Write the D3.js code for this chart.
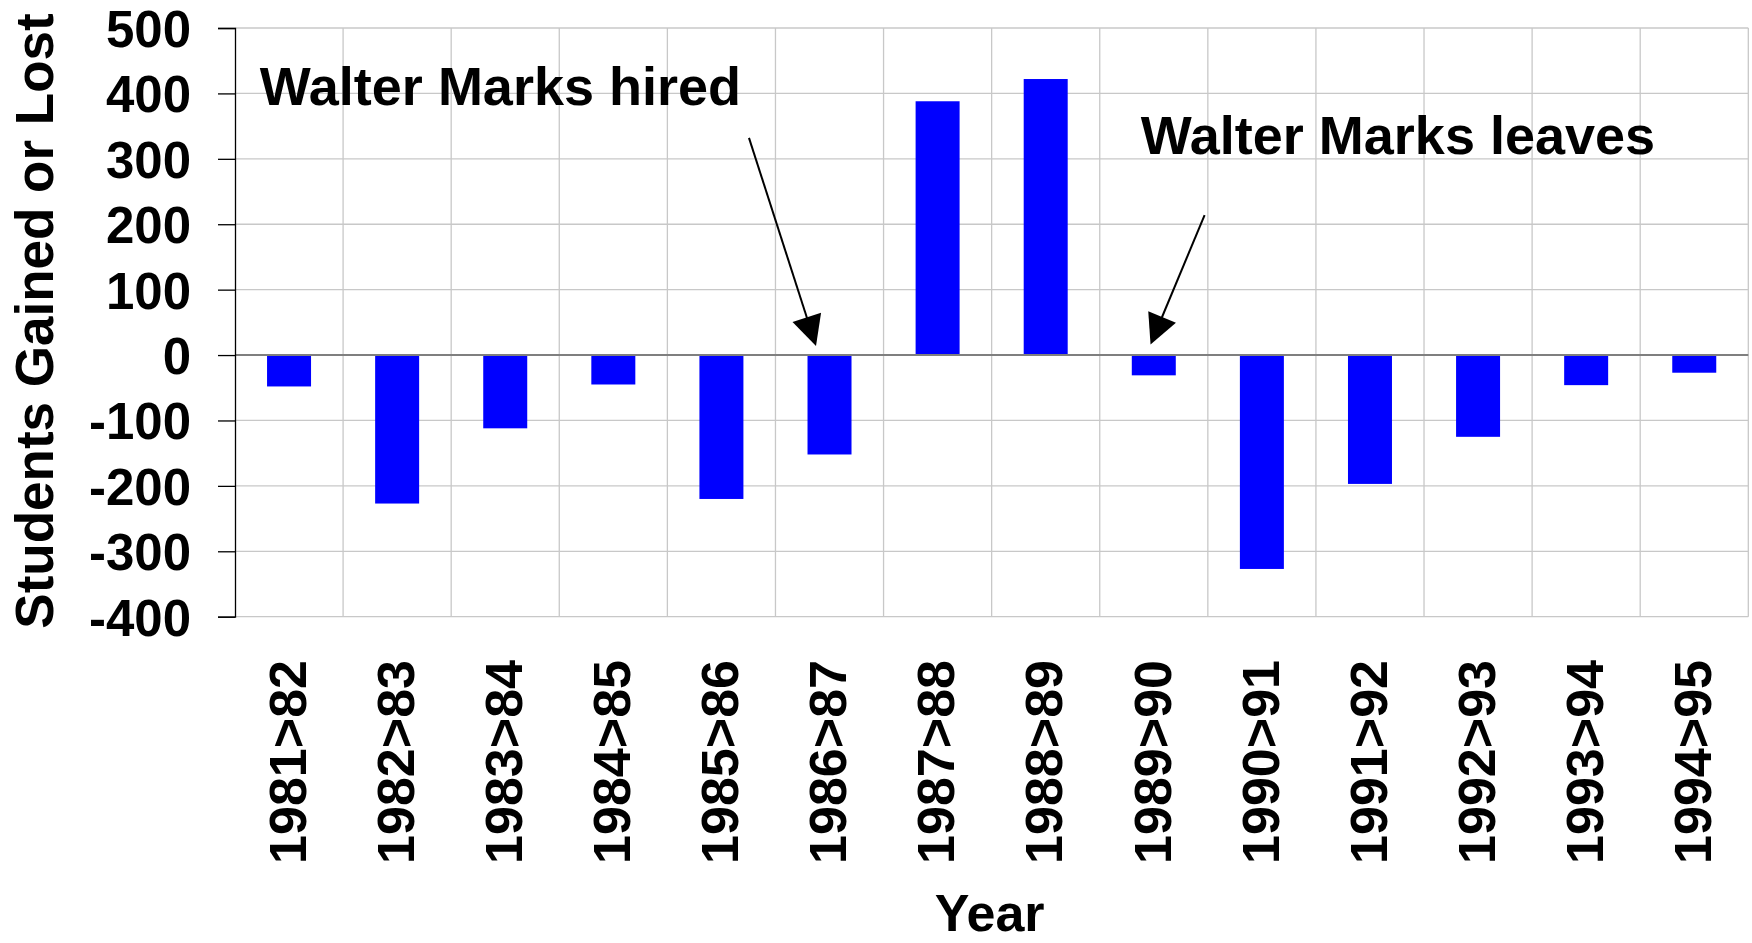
<!DOCTYPE html>
<html>
<head>
<meta charset="utf-8">
<script src="https://cdn.jsdelivr.net/npm/d3@7"></script>
<style>
  html, body { margin: 0; padding: 0; background: #fff; }
  svg { display: block; }
  text { font-family: "Liberation Sans", Arial, sans-serif; font-weight: bold; fill: #000; }
</style>
</head>
<body>
<svg id="chart" width="1752" height="943"></svg>
<script>
// ---- data ----
const categories = ["1981>82","1982>83","1983>84","1984>85","1985>86","1986>87","1987>88",
                    "1988>89","1989>90","1990>91","1991>92","1992>93","1993>94","1994>95"];
const values = [-48, -227, -112, -45, -220, -152, 388, 422, -31, -327, -197, -125, -46, -27];
const yTicks = [500, 400, 300, 200, 100, 0, -100, -200, -300, -400];
const yTitle = "Students Gained or Lost";
const xTitle = "Year";
// annotations in data units: x as category-index position, y as value
const annTexts = ["Walter Marks hired", "Walter Marks leaves"];
const annTextPos = [[0.23, 383], [8.38, 308]];
const annArrowFrom = [[4.755, 332], [8.97, 214]];
const annArrowTo = [[5.375, 14], [8.47, 16]];

// ---- layout ----
const pLeft = 235, pRight = 1748.3, pTop = 28, pBottom = 616.7;
const svg = d3.select("#chart");

const x = d3.scaleBand().domain(categories).range([pLeft, pRight]).padding(0);
const xi = d3.scaleLinear().domain([0, categories.length]).range([pLeft, pRight]);
const y = d3.scaleLinear().domain([-400, 500]).range([pBottom, pTop]);

// horizontal gridlines
svg.append("g").selectAll("line").data(yTicks.filter(d => d !== 0)).join("line")
  .attr("x1", pLeft).attr("x2", pRight)
  .attr("y1", d => y(d)).attr("y2", d => y(d))
  .attr("stroke", "#c8c8c8").attr("stroke-width", 1.3);

// vertical gridlines at category boundaries
const bounds = d3.range(1, categories.length + 1);
svg.append("g").selectAll("line").data(bounds).join("line")
  .attr("x1", d => xi(d)).attr("x2", d => xi(d))
  .attr("y1", pTop).attr("y2", pBottom)
  .attr("stroke", "#c8c8c8").attr("stroke-width", 1.3);

// bars
const barFrac = 0.407;
svg.append("g").selectAll("rect").data(values).join("rect")
  .attr("x", (d, i) => x(categories[i]) + x.bandwidth() * (1 - barFrac) / 2)
  .attr("width", x.bandwidth() * barFrac)
  .attr("y", d => y(Math.max(0, d)))
  .attr("height", d => Math.abs(y(d) - y(0)))
  .attr("fill", "#0000ff");

// zero line
svg.append("line")
  .attr("x1", pLeft).attr("x2", pRight).attr("y1", y(0)).attr("y2", y(0))
  .attr("stroke", "#7f7f7f").attr("stroke-width", 2);

// y axis
const yAxis = d3.axisLeft(y).tickValues(yTicks).tickSize(17).tickPadding(27).tickFormat(d => String(d));
const ya = svg.append("g").attr("transform", `translate(${pLeft},0)`).call(yAxis);
ya.select(".domain").attr("stroke", "#000").attr("stroke-width", 1.3);
ya.selectAll(".tick line").attr("stroke", "#000").attr("stroke-width", 1.3);
ya.selectAll(".tick text")
  .style("font-size", "51px").style("font-family", "'Liberation Sans', Arial, sans-serif")
  .style("font-weight", "bold").attr("fill", "#000").attr("dy", "0.36em");

// x tick labels (rotated)
svg.append("g").selectAll("text").data(categories).join("text")
  .attr("transform", d => `translate(${x(d) + x.bandwidth() / 2 - 2},660) rotate(-90)`)
  .attr("text-anchor", "end").attr("dy", "0.36em")
  .style("font-size", "52px")
  .text(d => d);

// axis titles
svg.append("text")
  .attr("transform", `translate(52.5,321) rotate(-90)`)
  .attr("text-anchor", "middle")
  .style("font-size", "53px")
  .text(yTitle);

svg.append("text")
  .attr("x", (pLeft + pRight) / 2 - 2).attr("y", 931)
  .attr("text-anchor", "middle")
  .style("font-size", "52px")
  .text(xTitle);

// annotations
svg.append("g").selectAll("text").data(annTexts).join("text")
  .attr("x", (d, i) => xi(annTextPos[i][0]))
  .attr("y", (d, i) => y(annTextPos[i][1]))
  .style("font-size", "54px")
  .text(d => d);

const headLen = 30, headW = 30;
annArrowFrom.forEach((f, i) => {
  const x1 = xi(f[0]), y1 = y(f[1]);
  const x2 = xi(annArrowTo[i][0]), y2 = y(annArrowTo[i][1]);
  const dx = x2 - x1, dy = y2 - y1, L = Math.hypot(dx, dy);
  const ux = dx / L, uy = dy / L;
  const bx = x2 - ux * headLen, by = y2 - uy * headLen;
  svg.append("line")
    .attr("x1", x1).attr("y1", y1).attr("x2", bx + ux * 2).attr("y2", by + uy * 2)
    .attr("stroke", "#000").attr("stroke-width", 2);
  const px = -uy, py = ux;
  svg.append("path")
    .attr("d", `M${x2},${y2}L${bx + px * headW / 2},${by + py * headW / 2}L${bx - px * headW / 2},${by - py * headW / 2}Z`)
    .attr("fill", "#000");
});
</script>
</body>
</html>
